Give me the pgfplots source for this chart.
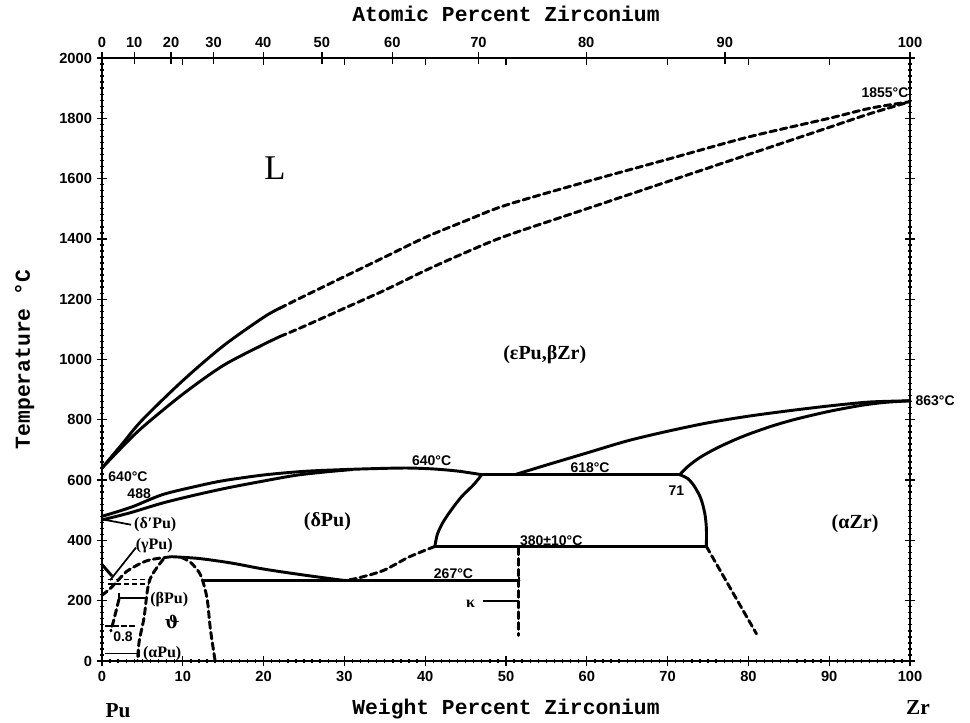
\documentclass[border=0pt]{standalone}
\usepackage{fontspec}
\setmainfont{Liberation Serif}
\setsansfont{Liberation Sans}
\setmonofont{Liberation Mono}
\newfontfamily\greekserif{DejaVu Serif}
\usepackage{pgfplots}
\pgfplotsset{compat=1.18}

% label fonts
\newcommand\ticklab{\sffamily\bfseries\fontsize{11pt}{12pt}\selectfont}
\newcommand\axtitle{\ttfamily\bfseries\fontsize{16pt}{18pt}\selectfont}
\newcommand\templab{\sffamily\bfseries\fontsize{10.5pt}{12pt}\selectfont}
\newcommand\phase{\rmfamily\bfseries\fontsize{15pt}{17pt}\selectfont}
\newcommand\phasesm{\rmfamily\bfseries\fontsize{12pt}{13pt}\selectfont}

\tikzset{
  bnd/.style={line width=2.2pt, line cap=round, line join=round},
  est/.style={bnd, dash pattern=on 5pt off 3pt},
  lead/.style={line width=1.3pt},
}

\begin{document}
\begin{tikzpicture}
\useasboundingbox (-76.5pt,-45.75pt) rectangle (651pt,495.75pt);
\begin{axis}[
  scale only axis, width=606pt, height=452.25pt,
  xmin=0, xmax=100, ymin=0, ymax=2000,
  xtick={0,10,...,100}, ytick={0,200,...,2000},
  minor x tick num=9, minor y tick num=9,
  xtick pos=bottom, ytick pos=both, yticklabel pos=left,
  tick align=center, major tick length=8pt, minor tick length=3pt,
  every tick/.style={black, line width=1pt},
  axis line style={line width=1.5pt},
  ticklabel style={font=\ticklab},
  /pgf/number format/assume math mode=true,
  /pgf/number format/1000 sep={},
  clip=false,
]
% liquidus and solidus
\addplot[bnd, smooth] coordinates {(0,640) (2.5,720) (5,800) (10,930) (15,1045) (20,1140) (22,1170)};
\addplot[est, smooth] coordinates {(22,1170) (25,1210) (30,1275) (35,1340) (40,1405) (45,1460) (50,1512) (60,1590) (70,1664) (80,1738) (90,1800) (95,1833) (100,1855)};
\addplot[bnd, smooth] coordinates {(0,640) (2.5,710) (5,775) (10,885) (15,980) (20,1050) (22,1076)};
\addplot[est, smooth] coordinates {(22,1076) (25,1110) (30,1170) (35,1230) (40,1295) (45,1355) (50,1410) (60,1500) (70,1590) (80,1680) (90,1770) (95,1815) (100,1855)};

% (deltaPu) field
\addplot[bnd, smooth] coordinates {(0,480) (2,496) (4,514) (7.5,552) (11.6,579) (15,598) (20,617) (25,629) (30,635) (35,639) (38,640) (41,637) (44,630) (47,618)};
\addplot[bnd, smooth] coordinates {(0,468) (3.4,491) (7.5,524) (11.6,551) (15.5,574) (19.8,596) (24,616) (28,628) (31,635)};
\addplot[bnd] coordinates {(47,618) (71.5,618)};

% beta-Zr / alpha-Zr boundaries
\addplot[bnd, smooth] coordinates {(51.1,618) (55,650) (60,690) (65,730) (70,762) (75,790) (80,812) (85,830) (90,846) (95,859) (100,863)};
\addplot[bnd, smooth] coordinates {(71.5,618) (72.5,645) (74,675) (76,705) (78,730) (80,752) (83,780) (86,803) (90,828) (94,848) (97,858) (100,863)};

% intermediate phase domes
\addplot[bnd, smooth] coordinates {(71.5,618) (72.5,605) (73.3,580) (74.1,540) (74.6,490) (74.8,440) (74.8,380)};
\addplot[bnd, smooth] coordinates {(41.2,380) (41.5,420) (42.2,460) (43.2,500) (44.5,545) (46,585) (47,618)};
\addplot[bnd] coordinates {(41.2,380) (74.8,380)};
\addplot[est] coordinates {(74.8,380) (81,90)};
\addplot[est] coordinates {(51.6,375) (51.6,85)};
\addplot[bnd] coordinates {(12.6,267) (51.6,267)};
\addplot[lead] coordinates {(51.6,252) (51.6,280)};
\addplot[lead] coordinates {(47.2,198) (51.6,198)};
\addplot[est, smooth] coordinates {(41.2,380) (38,345) (34.8,300) (31.5,274) (30,267)};
\addplot[bnd, smooth] coordinates {(8.6,346) (12,340) (16,325) (20,305) (25,285) (30,267)};

% Pu-rich corner
\addplot[est, smooth] coordinates {(0,218) (1,240) (2,268) (3,296) (4.5,320) (6,336) (8.6,346)};
\addplot[est, smooth] coordinates {(7.6,338) (6.8,310) (6.0,275) (5.6,231) (5.2,143) (4.6,65) (4.4,0)};
\addplot[est, smooth] coordinates {(9.8,344) (11,326) (12.2,285) (13,208) (13.4,109) (14,0)};
\addplot[est, smooth] coordinates {(2.1,205) (1.5,140) (1.1,100)};
\addplot[lead, dash pattern=on 4pt off 2pt] coordinates {(0.7,270) (5.8,270)};
\addplot[lead, dash pattern=on 4pt off 2pt] coordinates {(0.7,255) (5.8,255)};
\addplot[lead, dash pattern=on 4pt off 2pt] coordinates {(0.4,115) (4.3,115)};
\addplot[bnd] coordinates {(0,320) (1.2,283)};
\addplot[lead] coordinates {(2.1,210) (5.6,210)};
\addplot[lead] coordinates {(2.1,195) (2.1,225)};
\addplot[lead] coordinates {(0.4,25) (4.6,25)};
\addplot[lead] coordinates {(4.6,12) (4.6,38)};
\addplot[lead] coordinates {(0.4,468) (3.6,452)};
\addplot[lead] coordinates {(1,268) (4.2,376)};

% phase names
\node[font=\rmfamily\fontsize{26pt}{28pt}\selectfont] at (axis cs:21.4,1636) {L};
\node[font=\phase] at (axis cs:54.8,1015) {(εPu,βZr)};
\node[font=\phase] at (axis cs:27.9,462) {(δPu)};
\node[font=\phase] at (axis cs:93.2,456) {(αZr)};
\node[font=\phasesm, anchor=west] at (axis cs:3.4,452) {(δ′Pu)};
\node[font=\phasesm, anchor=west] at (axis cs:3.6,384) {(γPu)};
\node[font=\phasesm, anchor=west] at (axis cs:5.4,203) {(βPu)};
\node[font=\greekserif\bfseries\fontsize{13pt}{14pt}\selectfont] at (axis cs:8.7,128) {ϑ};
\node[font=\templab] at (axis cs:2.6,80) {0.8};
\node[font=\phasesm, anchor=west] at (axis cs:4.5,25) {(αPu)};
\node[font=\phasesm] at (axis cs:45.6,190) {κ};

% temperatures of invariant points
\node[font=\templab, anchor=south east, inner sep=1pt] at (axis cs:100,1862) {1855°C};
\node[font=\templab, anchor=west, inner sep=1pt] at ([xshift=3pt]axis cs:100,863) {863°C};
\node[font=\templab, anchor=west, inner sep=1pt] at (axis cs:0.6,612) {640°C};
\node[font=\templab] at (axis cs:4.6,556) {488};
\node[font=\templab] at (axis cs:40.8,664) {640°C};
\node[font=\templab] at (axis cs:60.4,642) {618°C};
\node[font=\templab] at (axis cs:71.1,566) {71};
\node[font=\templab] at (axis cs:55.6,400) {380±10°C};
\node[font=\templab] at (axis cs:43.5,288) {267°C};

% axis titles and element names
\node[font=\axtitle, rotate=90] at ([xshift=-58pt]axis description cs:0,0.5) {Temperature °C};
\node[font=\axtitle] at ([yshift=-36pt]axis description cs:0.5,0) {Weight Percent Zirconium};
\node[font=\axtitle] at ([yshift=33pt]axis description cs:0.5,1) {Atomic Percent Zirconium};
\node[font=\rmfamily\bfseries\fontsize{16pt}{17pt}\selectfont] at ([xshift=12pt,yshift=-37.5pt]axis description cs:0,0) {Pu};
\node[font=\rmfamily\bfseries\fontsize{16pt}{17pt}\selectfont] at ([xshift=6pt,yshift=-35pt]axis description cs:1,0) {Zr};
\end{axis}

% atomic percent scale along the top edge
\begin{axis}[
  scale only axis, width=606pt, height=452.25pt,
  xmin=0, xmax=100, ymin=0, ymax=1,
  axis x line*=top, axis y line=none,
  xtick={0,3.988,8.548,13.810,19.951,27.213,35.929,46.590,59.926,77.089,100},
  xticklabels={0,10,20,30,40,50,60,70,80,90,100},
  tick align=center, major tick length=9pt,
  every tick/.style={black, line width=1pt},
  axis line style={line width=1.5pt},
  ticklabel style={font=\ticklab},
  /pgf/number format/assume math mode=true,
  extra x ticks={10,20,...,90},
  extra x tick labels={},
  extra x tick style={tick align=inside, major tick length=5pt},
]
\end{axis}
\end{tikzpicture}
\end{document}
